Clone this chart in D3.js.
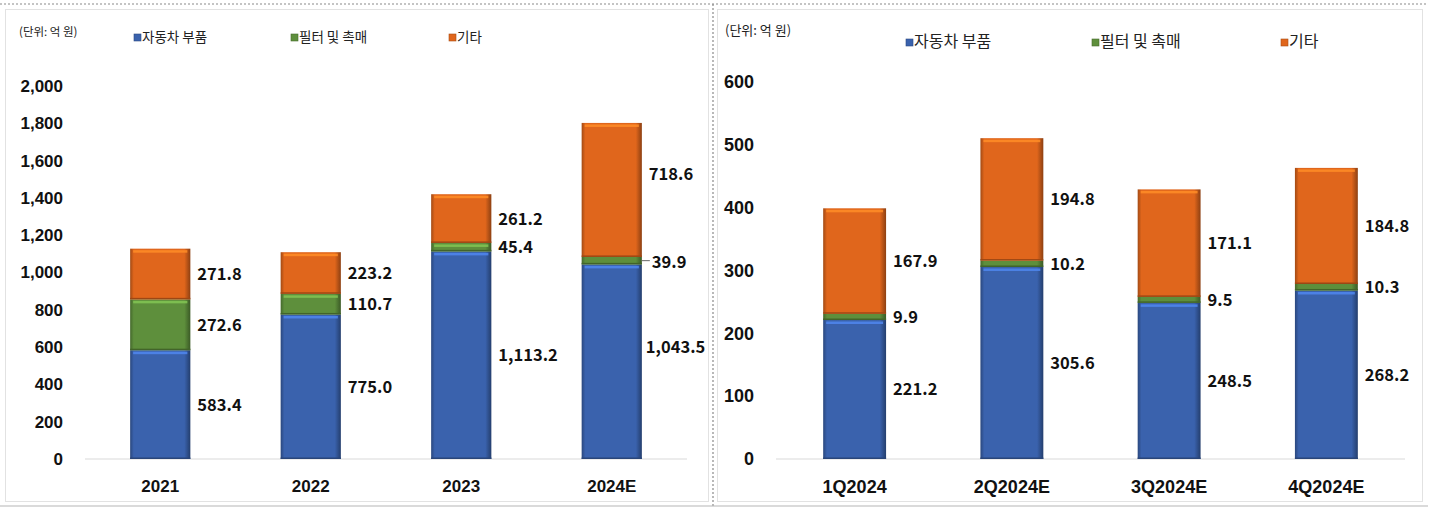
<!DOCTYPE html>
<html>
<head>
<meta charset="utf-8">
<script src="https://cdn.jsdelivr.net/npm/d3@7"></script>
<style>
  html, body { margin: 0; padding: 0; background: #fff; }
  svg { display: block; font-family: "Noto Sans CJK KR", "Noto Sans", sans-serif; }
  .tick text { font-weight: bold; fill: #111; }
</style>
</head>
<body>
<svg id="chart"></svg>
<script>
const seriesNames = ['자동차 부품', '필터 및 촉매', '기타'];
const seriesColors = ['#3a62ad', '#5e8f3c', '#e0661c'];

const yearCats = ['2021', '2022', '2023', '2024E'];
const yearAuto = [583.4, 775.0, 1113.2, 1043.5];
const yearFilter = [272.6, 110.7, 45.4, 39.9];
const yearOther = [271.8, 223.2, 261.2, 718.6];
const yearTicks = [0, 200, 400, 600, 800, 1000, 1200, 1400, 1600, 1800, 2000];

const quarterCats = ['1Q2024', '2Q2024E', '3Q2024E', '4Q2024E'];
const quarterAuto = [221.2, 305.6, 248.5, 268.2];
const quarterFilter = [9.9, 10.2, 9.5, 10.3];
const quarterOther = [167.9, 194.8, 171.1, 184.8];
const quarterTicks = [0, 100, 200, 300, 400, 500, 600];

const width = 1433;
const height = 508;

const svg = d3.select('#chart')
  .attr('width', width)
  .attr('height', height);

const defs = svg.append('defs');

// bevel-ish gradients per series
seriesColors.forEach((c, i) => {
  const g = defs.append('linearGradient')
    .attr('id', 'grad' + i)
    .attr('x1', '0').attr('x2', '1').attr('y1', '0').attr('y2', '0');
  const dark = d3.color(c).darker(0.9);
  g.append('stop').attr('offset', '0%').attr('stop-color', dark);
  g.append('stop').attr('offset', '6%').attr('stop-color', c);
  g.append('stop').attr('offset', '90%').attr('stop-color', c);
  g.append('stop').attr('offset', '100%').attr('stop-color', d3.color(c).darker(1.3));
});

// frame lines
svg.append('line')
  .attr('x1', 0).attr('x2', 1428).attr('y1', 4).attr('y2', 4)
  .attr('stroke', '#8a8a8a').attr('stroke-width', 1.2).attr('stroke-dasharray', '2,2');
svg.append('line')
  .attr('x1', 713).attr('x2', 713).attr('y1', 4).attr('y2', 508)
  .attr('stroke', '#8a8a8a').attr('stroke-width', 1.2).attr('stroke-dasharray', '2,2');
svg.append('rect')
  .attr('x', 5.5).attr('y', 9.5).attr('width', 703).attr('height', 492)
  .attr('fill', 'none').attr('stroke', '#e2e2e2');
svg.append('rect')
  .attr('x', 717.5).attr('y', 9.5).attr('width', 705).attr('height', 492)
  .attr('fill', 'none').attr('stroke', '#e2e2e2');
svg.append('line')
  .attr('x1', 0).attr('x2', 1428).attr('y1', 506).attr('y2', 506)
  .attr('stroke', '#b5b5b5').attr('stroke-width', 1.2);

function drawPanel(opts) {
  const { cats, auto, filter, other, ticks, yMax, left, right, top, bottom,
          unitPos, unitFont, legendY, legendX, legendFont, nudges, axisFont, labelFont } = opts;

  const rows = cats.map((c, i) => ({ cat: c, s0: auto[i], s1: filter[i], s2: other[i] }));
  const stacked = d3.stack().keys(['s0', 's1', 's2'])(rows);

  const x = d3.scaleBand().domain(cats).range([left, right]).paddingInner(0.6).paddingOuter(0.3);
  const y = d3.scaleLinear().domain([0, yMax]).range([bottom, top]);

  const g = svg.append('g');

  // unit + legend
  g.append('text')
    .attr('x', unitPos[0]).attr('y', unitPos[1])
    .attr('font-size', unitFont).attr('fill', '#222')
    .text('(단위: 억 원)');

  seriesNames.forEach((name, i) => {
    const lg = g.append('g').attr('transform', `translate(${legendX[i]},${legendY})`);
    lg.append('rect')
      .attr('x', 0).attr('y', -8).attr('width', 7).attr('height', 7)
      .attr('fill', seriesColors[i]).attr('stroke', d3.color(seriesColors[i]).darker(0.8)).attr('stroke-width', 0.6);
    lg.append('text')
      .attr('x', 8).attr('y', 0)
      .attr('font-size', legendFont).attr('fill', '#222')
      .text(name);
  });

  // baseline
  g.append('line')
    .attr('x1', left).attr('x2', right)
    .attr('y1', y(0)).attr('y2', y(0))
    .attr('stroke', '#d9d9d9');

  // y axis
  const yAxis = g.append('g')
    .attr('transform', `translate(${left},0)`)
    .call(d3.axisLeft(y).tickValues(ticks).tickSize(0).tickPadding(22).tickFormat(d3.format(',')));
  yAxis.select('.domain').remove();
  yAxis.selectAll('.tick text').attr('font-size', axisFont);

  // x axis
  const xAxis = g.append('g')
    .attr('transform', `translate(0,${y(0)})`)
    .call(d3.axisBottom(x).tickSize(0).tickPadding(21));
  xAxis.select('.domain').remove();
  xAxis.selectAll('.tick text').attr('font-size', axisFont);

  // bars
  stacked.forEach((layer, si) => {
    const lg = g.append('g');
    lg.selectAll('rect.seg')
      .data(layer)
      .join('rect')
      .attr('class', 'seg')
      .attr('x', d => x(d.data.cat))
      .attr('y', d => y(d[1]))
      .attr('width', x.bandwidth())
      .attr('height', d => y(d[0]) - y(d[1]))
      .attr('fill', `url(#grad${si})`);
    // top highlight
    lg.selectAll('rect.hi')
      .data(layer.filter(d => y(d[0]) - y(d[1]) > 8))
      .join('rect')
      .attr('class', 'hi')
      .attr('x', d => x(d.data.cat) + 3)
      .attr('y', d => y(d[1]) + 1.5)
      .attr('width', x.bandwidth() - 6)
      .attr('height', 2.5)
      .attr('fill', d3.color(seriesColors[si]).brighter(0.9))
      .attr('opacity', 0.85);
    // bottom shade
    lg.selectAll('rect.sh')
      .data(layer)
      .join('rect')
      .attr('class', 'sh')
      .attr('x', d => x(d.data.cat))
      .attr('y', d => y(d[0]) - 1.5)
      .attr('width', x.bandwidth())
      .attr('height', 1.5)
      .attr('fill', d3.color(seriesColors[si]).darker(1));
  });

  // value labels
  const fmt = d3.format(',.1f');
  stacked.forEach((layer, si) => {
    layer.forEach(d => {
      const n = (nudges[d.data.cat] || [])[si] || { dy: 0, dx: 0 };
      const ly = (y(d[0]) + y(d[1])) / 2 + n.dy;
      const lx = x(d.data.cat) + x.bandwidth() + 7 + (n.dx || 0);
      if (n.leader) {
        g.append('line')
          .attr('x1', x(d.data.cat) + x.bandwidth()).attr('x2', lx - 2)
          .attr('y1', ly - 1).attr('y2', ly - 1)
          .attr('stroke', '#666').attr('stroke-width', 1);
      }
      g.append('text')
        .attr('x', lx)
        .attr('y', ly)
        .attr('dy', '0.36em')
        .attr('font-size', labelFont).attr('font-weight', 'bold').attr('fill', '#111')
        .text(fmt(d[1] - d[0]));
    });
  });
}

drawPanel({
  cats: yearCats, auto: yearAuto, filter: yearFilter, other: yearOther,
  ticks: yearTicks, yMax: 2000,
  left: 85, right: 687, top: 86, bottom: 459,
  unitPos: [19, 36], unitFont: 11.5,
  legendY: 42, legendX: [134, 291, 449], legendFont: 13.5,
  axisFont: 17, labelFont: 16.5,
  nudges: { '2024E': [{ dy: -15, dx: -3 }, { dy: 1, dx: 3, leader: true }, { dy: -16 }] }
});

drawPanel({
  cats: quarterCats, auto: quarterAuto, filter: quarterFilter, other: quarterOther,
  ticks: quarterTicks, yMax: 600,
  left: 776, right: 1405, top: 82, bottom: 459,
  unitPos: [725, 35], unitFont: 13,
  legendY: 47, legendX: [906, 1092, 1281], legendFont: 16,
  axisFont: 18, labelFont: 16.5,
  nudges: {}
});
</script>
</body>
</html>
